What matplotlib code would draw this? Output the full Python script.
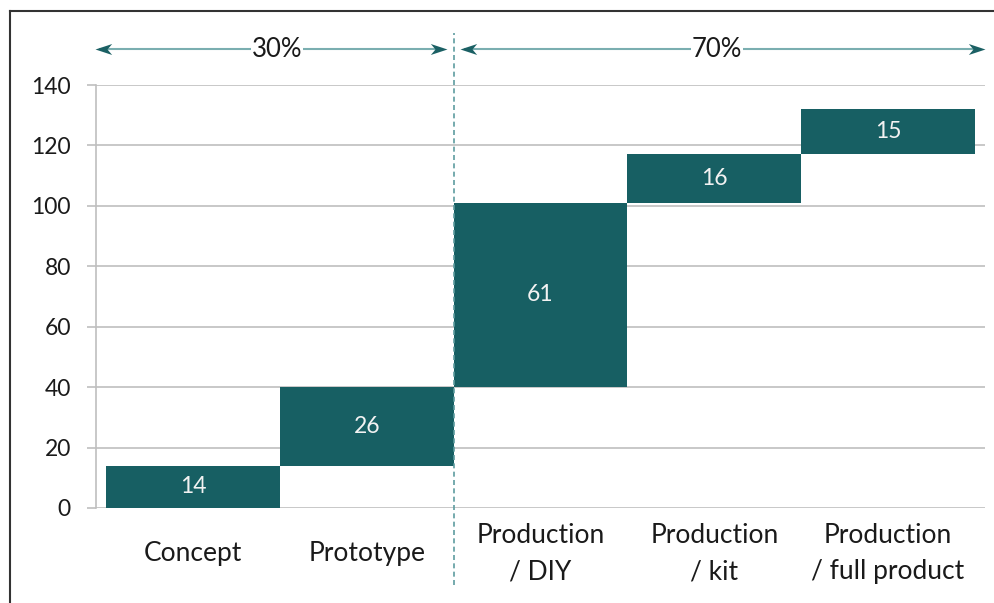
import matplotlib
matplotlib.use("Agg")
import matplotlib.pyplot as plt
from matplotlib.lines import Line2D
from matplotlib.path import Path

plt.rcParams['font.family'] = ['Lato', 'DejaVu Sans']

categories = ["Concept", "Prototype", "Production\n/ DIY", "Production\n/ kit", "Production\n/ full product"]
values = [14, 26, 61, 16, 15]
yticks = [0, 20, 40, 60, 80, 100, 120, 140]
group_labels = ["30%", "70%"]

bar_color = "#175F63"
head_color = "#1B6064"
line_color = "#7AAEB0"
dash_color = "#5E9C9F"
grid_color = "#BFBFBF"

fig = plt.figure(figsize=(9.95, 6.03), dpi=100)
L, R = 96 / 995, 985 / 995
B, T = (603 - 508) / 603, (603 - 85) / 603
ax = fig.add_axes([L, B, R - L, T - B])

bottoms = []
acc = 0
for v in values:
    bottoms.append(acc)
    acc += v
x = list(range(len(categories)))
ax.bar(x, values, bottom=bottoms, width=1.0, color=bar_color, zorder=3)
for xi, b, v in zip(x, bottoms, values):
    ax.text(xi, b + v / 2, str(v), ha='center', va='center', color='#F2F2F2',
            fontsize=16.5, zorder=4)

ax.set_xlim(-0.5 - 10 / 173.8, 4.5 + 10 / 173.8)
ax.set_ylim(0, 140)
ax.set_yticks(yticks)
ax.set_yticklabels([str(t) for t in yticks], fontsize=16.5, color='#1a1a1a')
ax.yaxis.grid(True, color=grid_color, linewidth=1.2, zorder=0)
ax.set_axisbelow(True)
ax.tick_params(axis='y', length=6.5, width=1.2, color=grid_color, pad=11.5)

ax.set_xticks(x)
ax.set_xticklabels(categories, fontsize=19, color='#1a1a1a', linespacing=1.55)
for lab in ax.get_xticklabels():
    lab.set_va('center')
ax.tick_params(axis='x', length=0, pad=33)

for s in ['top', 'right', 'bottom']:
    ax.spines[s].set_visible(False)
ax.spines['left'].set_color(grid_color)
ax.spines['left'].set_linewidth(1.2)

# dashed divider
ax.add_line(Line2D([1.5, 1.5], [-25.5, 157.2], color=dash_color, linestyle=(0, (3, 2)),
                   linewidth=1.2, clip_on=False, zorder=5))

# stealth arrow heads
right_head = Path([(0, 0), (-1, 0.33), (-0.72, 0), (-1, -0.33), (0, 0)],
                  [Path.MOVETO, Path.LINETO, Path.LINETO, Path.LINETO, Path.CLOSEPOLY])
left_head = Path([(0, 0), (1, 0.33), (0.72, 0), (1, -0.33), (0, 0)],
                 [Path.MOVETO, Path.LINETO, Path.LINETO, Path.LINETO, Path.CLOSEPOLY])

y_arrow = 151.9
arrows = [(-0.563, 1.462, 0.484), (1.537, 4.557, 3.016)]
for (x0, x1, xt), lab in zip(arrows, group_labels):
    ax.add_line(Line2D([x0 + 0.03, x1 - 0.03], [y_arrow, y_arrow], color=line_color,
                       linewidth=1.5, clip_on=False, zorder=5))
    ax.plot([x0], [y_arrow], marker=left_head, markersize=24, color=head_color,
            markeredgewidth=0, clip_on=False, zorder=6)
    ax.plot([x1], [y_arrow], marker=right_head, markersize=24, color=head_color,
            markeredgewidth=0, clip_on=False, zorder=6)
    ax.text(xt, y_arrow, lab, ha='center', va='center', fontsize=18.5, color='#1a1a1a',
            bbox=dict(facecolor='white', edgecolor='none', pad=0.3), zorder=7,
            clip_on=False)

# figure border (left and top)
fig.add_artist(Line2D([10 / 995, 10 / 995], [0, 1 - 11 / 603], color='#333333', linewidth=1.5))
fig.add_artist(Line2D([10 / 995, 1], [1 - 11 / 603, 1 - 11 / 603], color='#333333', linewidth=1.5))

fig.savefig("out.png", dpi=100)
